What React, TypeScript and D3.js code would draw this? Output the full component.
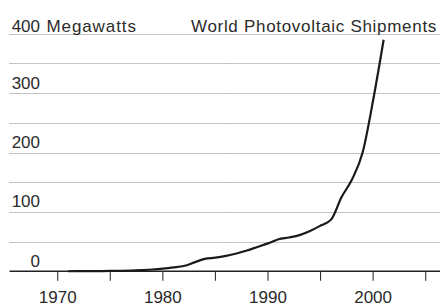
import React from 'react';
import * as d3 from 'd3';

const years = [1971, 1972, 1973, 1974, 1975, 1976, 1977, 1978, 1979, 1980, 1981, 1982, 1983, 1984, 1985, 1986,
  1987, 1988, 1989, 1990, 1991, 1992, 1993, 1994, 1995, 1996, 1997, 1998, 1999, 2000, 2001];
const shipments = [0.1, 0.2, 0.3, 0.4, 0.6, 0.8, 1.2, 2, 3, 4.5, 6.5, 9, 15, 21, 23, 26,
  30, 35, 41, 47, 54, 57, 61, 68, 77, 87, 125, 155, 200, 288, 390];
const yTicks = [0, 100, 200, 300, 400];
const gridValues = [50, 100, 150, 200, 250, 300, 350, 400];
const xTicks = [1970, 1975, 1980, 1985, 1990, 1995, 2000, 2005];
const xLabels = [1970, 1980, 1990, 2000];

const W = 440;
const H = 304;
const left = 9.5;
const font = '"Liberation Sans", Arial, Helvetica, sans-serif';

export default function App() {
  const x = d3.scaleLinear().domain([1970, 2005]).range([57.7, 425.7]);
  const y = d3.scaleLinear().domain([0, 400]).range([271.3, 33.8]);

  const line = d3.line<number>()
    .x((d, i) => x(years[i]))
    .y(d => y(d))
    .curve(d3.curveMonotoneX);

  return (
    <svg width={W} height={H} style={{ position: 'absolute', left: 0, top: 0 }}
      fontFamily={font} fill="#2b2b2b">
      {/* dotted gridlines */}
      {gridValues.map(v => (
        <line key={v} x1={left} x2={W} y1={Math.round(y(v)) + 0.5} y2={Math.round(y(v)) + 0.5}
          stroke="#888" strokeWidth={1} strokeDasharray="1,1" />
      ))}
      {/* baseline */}
      <line x1={left} x2={W} y1={y(0)} y2={y(0)} stroke="#222" strokeWidth={1.4} />
      {xTicks.map(t => (
        <line key={t} x1={x(t)} x2={x(t)} y1={y(0)} y2={y(0) + 9.5} stroke="#333" strokeWidth={1.1} />
      ))}
      {xLabels.map(t => (
        <text key={t} x={x(t)} y={302.5} textAnchor="middle" fontSize={17}>{t}</text>
      ))}
      {yTicks.map(v => (
        <text key={v} x={40} y={y(v) - (v === 400 ? 2.3 : 4.6)} textAnchor="end" fontSize={17}>{v}</text>
      ))}
      <text x={46.5} y={y(400) - 2.3} fontSize={17} letterSpacing={0.9}>Megawatts</text>
      <text x={437} y={y(400) - 2.3} fontSize={17} textAnchor="end" letterSpacing={0.7}>
        World Photovoltaic Shipments
      </text>
      <path d={line(shipments) || ''} fill="none" stroke="#1a1a1a" strokeWidth={2.2}
        strokeLinejoin="round" />
    </svg>
  );
}
